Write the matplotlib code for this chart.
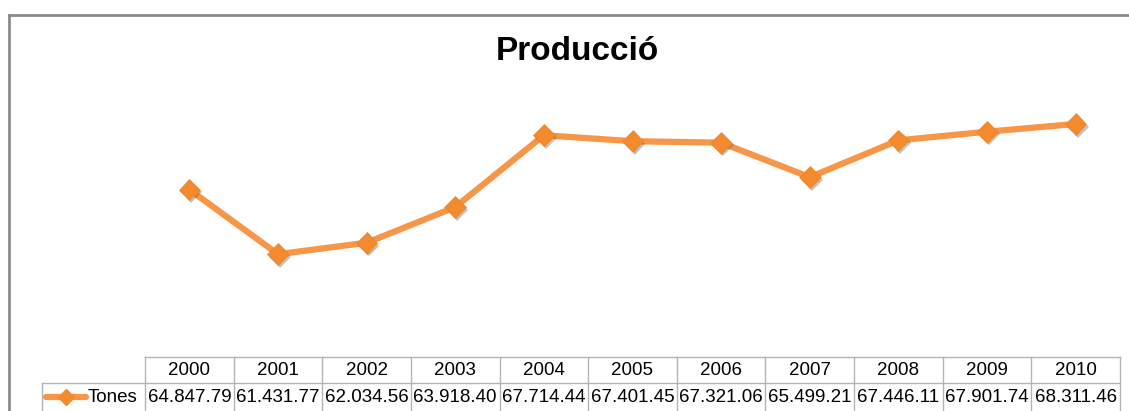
import matplotlib.pyplot as plt
import matplotlib.patheffects as pe
from matplotlib.transforms import blended_transform_factory

years = ["2000", "2001", "2002", "2003", "2004", "2005",
         "2006", "2007", "2008", "2009", "2010"]
tones = [64847.79, 61431.77, 62034.56, 63918.40, 67714.44, 67401.45,
         67321.06, 65499.21, 67446.11, 67901.74, 68311.46]
labels = ["64.847.79", "61.431.77", "62.034.56", "63.918.40", "67.714.44",
          "67.401.45", "67.321.06", "65.499.21", "67.446.11", "67.901.74",
          "68.311.46"]
series_name = "Tones"
title = "Producció"

W, H = 1129, 411
DPI = 100
orange = "#F79646"
grid_col = "#B4B4B4"

plt.rcParams["font.family"] = ["Liberation Sans", "DejaVu Sans"]

fig = plt.figure(figsize=(W / DPI, H / DPI), dpi=DPI)
fig.patch.set_facecolor("white")

# plot area in pixel coordinates (y measured from top)
px_left, px_right, px_top, px_bot = 145, 1120, 92, 357
ax = fig.add_axes([px_left / W, 1 - px_bot / H,
                   (px_right - px_left) / W, (px_bot - px_top) / H])
ax.set_xlim(-0.5, len(years) - 0.5)
ax.set_ylim(56000, 70000)
ax.axis("off")

xs = list(range(len(years)))
shadow = [pe.SimplePatchShadow(offset=(1.5, -2), alpha=0.35, shadow_rgbFace="#555555"),
          pe.Normal()]
ax.plot(xs, tones, color=orange, lw=4.5, solid_joinstyle="round", zorder=2)
ax.plot(xs, tones, ls="none", marker="D", ms=11, color="#F38B2E",
        markeredgecolor="#F08528", markeredgewidth=0.5, zorder=3,
        path_effects=shadow)

# outer chart frame (top and left edges visible)
def fig_px(x, y):
    return x / W, 1 - y / H

frame_kw = dict(color="#8C8C8C", lw=2, transform=fig.transFigure, zorder=5)
fig.add_artist(plt.Line2D([fig_px(9, 0)[0], 1.0], [fig_px(0, 15)[1]] * 2, **frame_kw))
fig.add_artist(plt.Line2D([fig_px(9, 0)[0]] * 2, [fig_px(0, 15)[1], 0.0], **frame_kw))

fig.text(577 / W, 1 - 51 / H, title, ha="center", va="center",
         fontsize=24, fontweight="bold", color="black")

# data table below the plot: x in data units, y in figure pixels
trans = blended_transform_factory(ax.transData, fig.transFigure)
def yf(y):
    return 1 - y / H

x0, x1 = -0.5, len(years) - 0.5
legend_left = -0.5 - (px_left - 42) / ((px_right - px_left) / len(years))
row_top, row_mid, row_bot = 357, 383, 412
line_kw = dict(color=grid_col, lw=1, transform=trans, clip_on=False)
fig.add_artist(plt.Line2D([x0, x1], [yf(row_top)] * 2, **line_kw))
fig.add_artist(plt.Line2D([legend_left, x1], [yf(row_mid)] * 2, **line_kw))
for i in range(len(years) + 1):
    xv = x0 + i
    fig.add_artist(plt.Line2D([xv, xv], [yf(row_top), yf(row_bot)], **line_kw))
fig.add_artist(plt.Line2D([legend_left] * 2, [yf(row_mid), yf(row_bot)], **line_kw))

tsize = 13.5
for i, (yr, lab) in enumerate(zip(years, labels)):
    fig.text(i, yf(370), yr, transform=trans, ha="center", va="center",
             fontsize=tsize, color="black")
    fig.text(i, yf(397), lab, transform=trans, ha="center", va="center",
             fontsize=tsize, color="black")

# legend key inside the table
key_l, key_r = legend_left + 0.04, legend_left + 0.5
fig.add_artist(plt.Line2D([key_l, key_r], [yf(397)] * 2, color=orange, lw=4.5,
                          transform=trans, solid_capstyle="round"))
fig.add_artist(plt.Line2D([(key_l + key_r) / 2], [yf(397)], marker="D", ms=8,
                          color="#F38B2E", transform=trans, ls="none"))
fig.text(88 / W, yf(397), series_name, ha="left", va="center",
         fontsize=tsize, color="black")

fig.savefig("out.png", dpi=DPI, facecolor="white")
